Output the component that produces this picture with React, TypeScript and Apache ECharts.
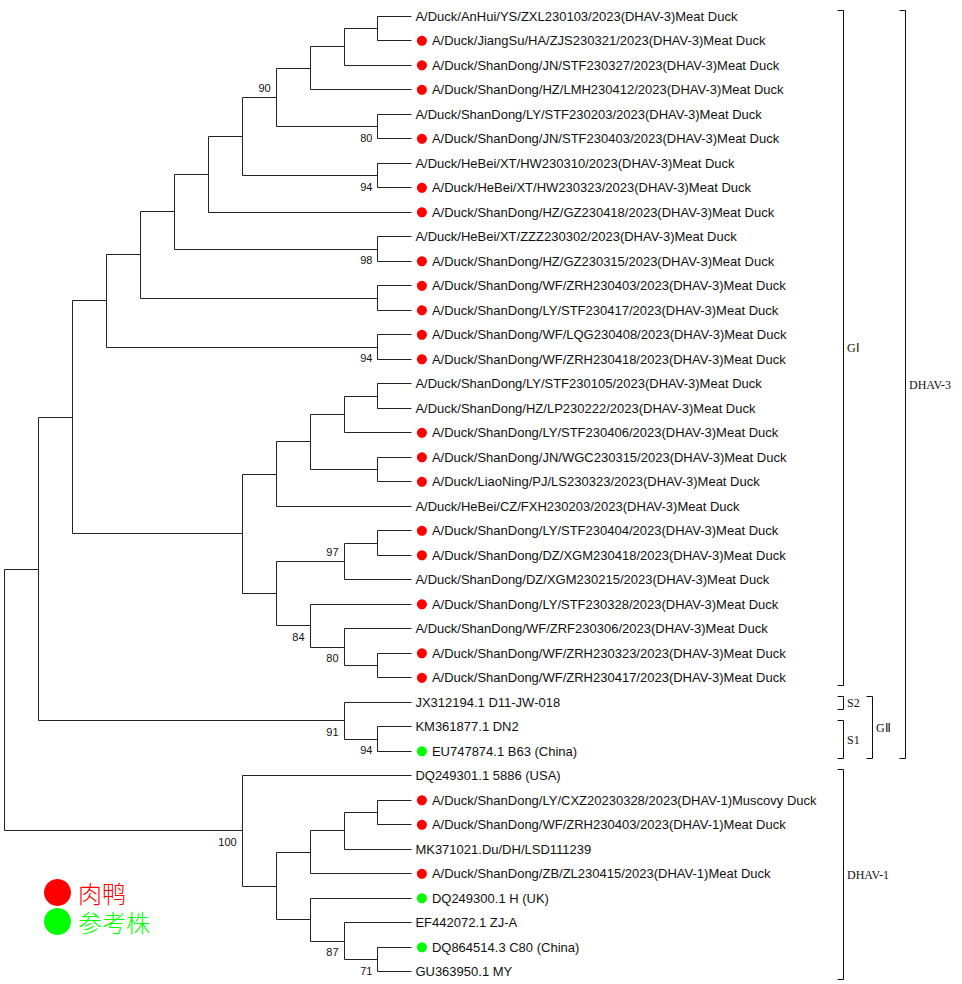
import React, { useEffect, useRef } from "react";
import * as echarts from "echarts";

// ---------- data ----------
const LEAF_NAMES: string[] = [
  "A/Duck/AnHui/YS/ZXL230103/2023(DHAV-3)Meat Duck",
  "A/Duck/JiangSu/HA/ZJS230321/2023(DHAV-3)Meat Duck",
  "A/Duck/ShanDong/JN/STF230327/2023(DHAV-3)Meat Duck",
  "A/Duck/ShanDong/HZ/LMH230412/2023(DHAV-3)Meat Duck",
  "A/Duck/ShanDong/LY/STF230203/2023(DHAV-3)Meat Duck",
  "A/Duck/ShanDong/JN/STF230403/2023(DHAV-3)Meat Duck",
  "A/Duck/HeBei/XT/HW230310/2023(DHAV-3)Meat Duck",
  "A/Duck/HeBei/XT/HW230323/2023(DHAV-3)Meat Duck",
  "A/Duck/ShanDong/HZ/GZ230418/2023(DHAV-3)Meat Duck",
  "A/Duck/HeBei/XT/ZZZ230302/2023(DHAV-3)Meat Duck",
  "A/Duck/ShanDong/HZ/GZ230315/2023(DHAV-3)Meat Duck",
  "A/Duck/ShanDong/WF/ZRH230403/2023(DHAV-3)Meat Duck",
  "A/Duck/ShanDong/LY/STF230417/2023(DHAV-3)Meat Duck",
  "A/Duck/ShanDong/WF/LQG230408/2023(DHAV-3)Meat Duck",
  "A/Duck/ShanDong/WF/ZRH230418/2023(DHAV-3)Meat Duck",
  "A/Duck/ShanDong/LY/STF230105/2023(DHAV-3)Meat Duck",
  "A/Duck/ShanDong/HZ/LP230222/2023(DHAV-3)Meat Duck",
  "A/Duck/ShanDong/LY/STF230406/2023(DHAV-3)Meat Duck",
  "A/Duck/ShanDong/JN/WGC230315/2023(DHAV-3)Meat Duck",
  "A/Duck/LiaoNing/PJ/LS230323/2023(DHAV-3)Meat Duck",
  "A/Duck/HeBei/CZ/FXH230203/2023(DHAV-3)Meat Duck",
  "A/Duck/ShanDong/LY/STF230404/2023(DHAV-3)Meat Duck",
  "A/Duck/ShanDong/DZ/XGM230418/2023(DHAV-3)Meat Duck",
  "A/Duck/ShanDong/DZ/XGM230215/2023(DHAV-3)Meat Duck",
  "A/Duck/ShanDong/LY/STF230328/2023(DHAV-3)Meat Duck",
  "A/Duck/ShanDong/WF/ZRF230306/2023(DHAV-3)Meat Duck",
  "A/Duck/ShanDong/WF/ZRH230323/2023(DHAV-3)Meat Duck",
  "A/Duck/ShanDong/WF/ZRH230417/2023(DHAV-3)Meat Duck",
  "JX312194.1 D11-JW-018",
  "KM361877.1 DN2",
  "EU747874.1 B63 (China)",
  "DQ249301.1 5886 (USA)",
  "A/Duck/ShanDong/LY/CXZ20230328/2023(DHAV-1)Muscovy Duck",
  "A/Duck/ShanDong/WF/ZRH230403/2023(DHAV-1)Meat Duck",
  "MK371021.Du/DH/LSD111239",
  "A/Duck/ShanDong/ZB/ZL230415/2023(DHAV-1)Meat Duck",
  "DQ249300.1 H (UK)",
  "EF442072.1 ZJ-A",
  "DQ864514.3 C80 (China)",
  "GU363950.1 MY",
];

// "m" = 肉鸭 (meat duck, red), "r" = 参考株 (reference strain, green), "" = none
const LEAF_GROUP: string[] = [
  "", "m", "m", "m", "", "m", "", "m", "m", "",
  "m", "m", "m", "m", "m", "", "", "m", "m", "m",
  "", "m", "m", "", "m", "", "m", "m", "", "",
  "r", "", "m", "m", "", "m", "r", "", "r", "",
];

// topology (leaf indices) with bootstrap support values after closing brackets
const TREE_NEWICK =
  "((((((((((((0,1),2),3),(4,5)80)90,(6,7)94),8),(9,10)98),(11,12)),(13,14)94)," +
  "(((((15,16),17),(18,19)),20),(((21,22),23)97,(24,(25,(26,27))80)84)))," +
  "(28,(29,30)94)91)," +
  "(31,((((32,33),34),35),(36,(37,(38,39)71)87)))100)";

const CLADE_NAMES = ["GⅠ", "S2", "S1", "GⅡ", "DHAV-3", "DHAV-1"];
const CLADE_FIRST = [0, 28, 29, 28, 0, 31];
const CLADE_LAST = [27, 28, 30, 30, 30, 39];
const CLADE_COLUMN = [0, 0, 0, 1, 2, 0];

const LEGEND_NAMES = ["肉鸭", "参考株"];
const LEGEND_COLORS = ["#ff0000", "#00ff00"];

// ---------- layout constants (styles) ----------
const COLUMN_X = [843.5, 872.5, 905.5];
const LINE_COLOR = "#222222";
const SANS = "'Liberation Sans', Arial, sans-serif";
const SERIF = "'Liberation Serif', 'Times New Roman', serif";

type TNode = {
  leaf?: number;
  children: TNode[];
  support?: number;
  height: number;
  level: number;
  y: number;
  childPos: number;
};

function parseNewick(s: string): TNode {
  let i = 0;
  const readNum = () => {
    let n = "";
    while (i < s.length && /[0-9]/.test(s[i])) n += s[i++];
    return n;
  };
  const node = (): TNode => {
    if (s[i] === "(") {
      i++;
      const children = [node()];
      while (s[i] === ",") {
        i++;
        children.push(node());
      }
      i++; // ')'
      const n = readNum();
      return { children, support: n ? Number(n) : undefined, height: 0, level: 0, y: 0, childPos: 0 };
    }
    const n = readNum();
    return { leaf: Number(n), children: [], height: 0, level: 0, y: 0, childPos: 0 };
  };
  return node();
}

function layoutTree(root: TNode) {
  const heights = (n: TNode): number => {
    if (!n.children.length) {
      n.height = 0;
      n.y = n.leaf as number;
      return 0;
    }
    let h = 0;
    n.children.forEach((c, k) => {
      c.childPos = k;
      h = Math.max(h, heights(c) + 1);
    });
    n.height = h;
    n.y = (n.children[0].y + n.children[n.children.length - 1].y) / 2;
    return h;
  };
  const rootH = heights(root);
  const internals: TNode[] = [];
  const walk = (n: TNode) => {
    n.level = rootH - n.height;
    if (n.children.length) internals.push(n);
    n.children.forEach(walk);
  };
  walk(root);
  return { rootH, internals };
}

const snap = (v: number) => Math.round(v - 0.5) + 0.5;

export default function App() {
  const ref = useRef<HTMLDivElement>(null);

  useEffect(() => {
    if (!ref.current) return;
    const chart = echarts.init(ref.current, undefined, { renderer: "svg" });
    const root = parseNewick(TREE_NEWICK);
    const { rootH, internals } = layoutTree(root);
    const nLeaves = LEAF_NAMES.length;

    const treeSeries = {
      type: "custom",
      silent: true,
      coordinateSystem: "cartesian2d",
      data: internals.map((n) => [n.level, n.y]),
      renderItem: (params: any, api: any) => {
        const n = internals[params.dataIndex];
        const p = api.coord([n.level, n.y]);
        const x = snap(p[0]);
        const kids = n.children.map((c) => api.coord([c.level, c.y]));
        const children: any[] = [];
        children.push({
          type: "line",
          shape: { x1: x, y1: snap(kids[0][1]), x2: x, y2: snap(kids[kids.length - 1][1]) },
          style: { stroke: LINE_COLOR, lineWidth: 1 },
        });
        kids.forEach((k: number[]) => {
          children.push({
            type: "line",
            shape: { x1: x, y1: snap(k[1]), x2: snap(k[0]), y2: snap(k[1]) },
            style: { stroke: LINE_COLOR, lineWidth: 1 },
          });
        });
        if (n.support !== undefined) {
          children.push({
            type: "text",
            style: {
              text: String(n.support),
              x: p[0] - 5.5,
              y: p[1] + (n.childPos === 0 ? -9 : 11),
              align: "right",
              verticalAlign: "middle",
              fontSize: 11,
              fontFamily: SANS,
              fill: "#111",
            },
          });
        }
        return { type: "group", children };
      },
      z: 2,
    };

    const leafSeries = {
      type: "custom",
      silent: true,
      coordinateSystem: "cartesian2d",
      data: LEAF_NAMES.map((_, i) => [rootH, i]),
      renderItem: (params: any, api: any) => {
        const i = params.dataIndex;
        const p = api.coord([rootH, i]);
        const dot = LEAF_GROUP[i] !== "";
        return {
          type: "text",
          style: {
            text: LEAF_NAMES[i],
            x: p[0] + (dot ? 20 : 3.5),
            y: p[1],
            align: "left",
            verticalAlign: "middle",
            fontSize: 13,
            fontFamily: SANS,
            fill: "#111",
          },
        };
      },
      z: 3,
    };

    const dotSeries = LEGEND_NAMES.map((name, g) => ({
      type: "scatter",
      name,
      silent: true,
      symbol: "circle",
      symbolSize: 10,
      symbolOffset: [10, 0],
      itemStyle: { color: LEGEND_COLORS[g], opacity: 1 },
      data: LEAF_NAMES.map((_, i) => i)
        .filter((i) => LEAF_GROUP[i] === (g === 0 ? "m" : "r"))
        .map((i) => [rootH, i]),
      z: 4,
    }));

    const cladeSeries = {
      type: "custom",
      silent: true,
      coordinateSystem: "cartesian2d",
      data: CLADE_NAMES.map((_, c) => [0, CLADE_FIRST[c]]),
      renderItem: (params: any, api: any) => {
        const c = params.dataIndex;
        const yTop = snap(api.coord([0, CLADE_FIRST[c]])[1] - 6);
        const yBot = snap(api.coord([0, CLADE_LAST[c]])[1] + 7.5);
        const x = COLUMN_X[CLADE_COLUMN[c]];
        return {
          type: "group",
          children: [
            {
              type: "polyline",
              shape: { points: [[x - 6, yTop], [x, yTop], [x, yBot], [x - 6, yBot]] },
              style: { stroke: "#111", lineWidth: 1, fill: "none" },
            },
            {
              type: "text",
              style: {
                text: CLADE_NAMES[c],
                x: x + 3.5,
                y: (yTop + yBot) / 2,
                align: "left",
                verticalAlign: "middle",
                fontSize: 12,
                fontFamily: SERIF,
                fill: "#111",
              },
            },
          ],
        };
      },
      z: 2,
    };

    chart.setOption({
      animation: false,
      backgroundColor: "#ffffff",
      grid: { left: 4.7, right: 962 - 411.9, top: 16.3, bottom: 984 - 971.8 },
      xAxis: { type: "value", min: 0, max: rootH, show: false },
      yAxis: { type: "value", min: 0, max: nLeaves - 1, inverse: true, show: false },
      legend: {
        orient: "vertical",
        left: 44,
        top: 879,
        padding: 0,
        itemGap: 2,
        itemWidth: 27,
        itemHeight: 27,
        icon: "circle",
        selectedMode: false,
        itemStyle: { opacity: 1 },
        textStyle: {
          fontSize: 24,
          lineHeight: 27,
          fontWeight: 300,
          fontFamily: "'Noto Sans CJK SC Light', 'Noto Sans CJK SC', sans-serif",
          padding: [0, 0, 0, 2],
        },
        data: LEGEND_NAMES.map((name, g) => ({ name, textStyle: { color: LEGEND_COLORS[g] } })),
      },
      series: [treeSeries, leafSeries, cladeSeries, ...dotSeries],
    } as any);

    return () => chart.dispose();
  }, []);

  return (
    <div
      ref={ref}
      style={{ position: "absolute", left: 0, top: 0, width: 962, height: 984 }}
    />
  );
}
